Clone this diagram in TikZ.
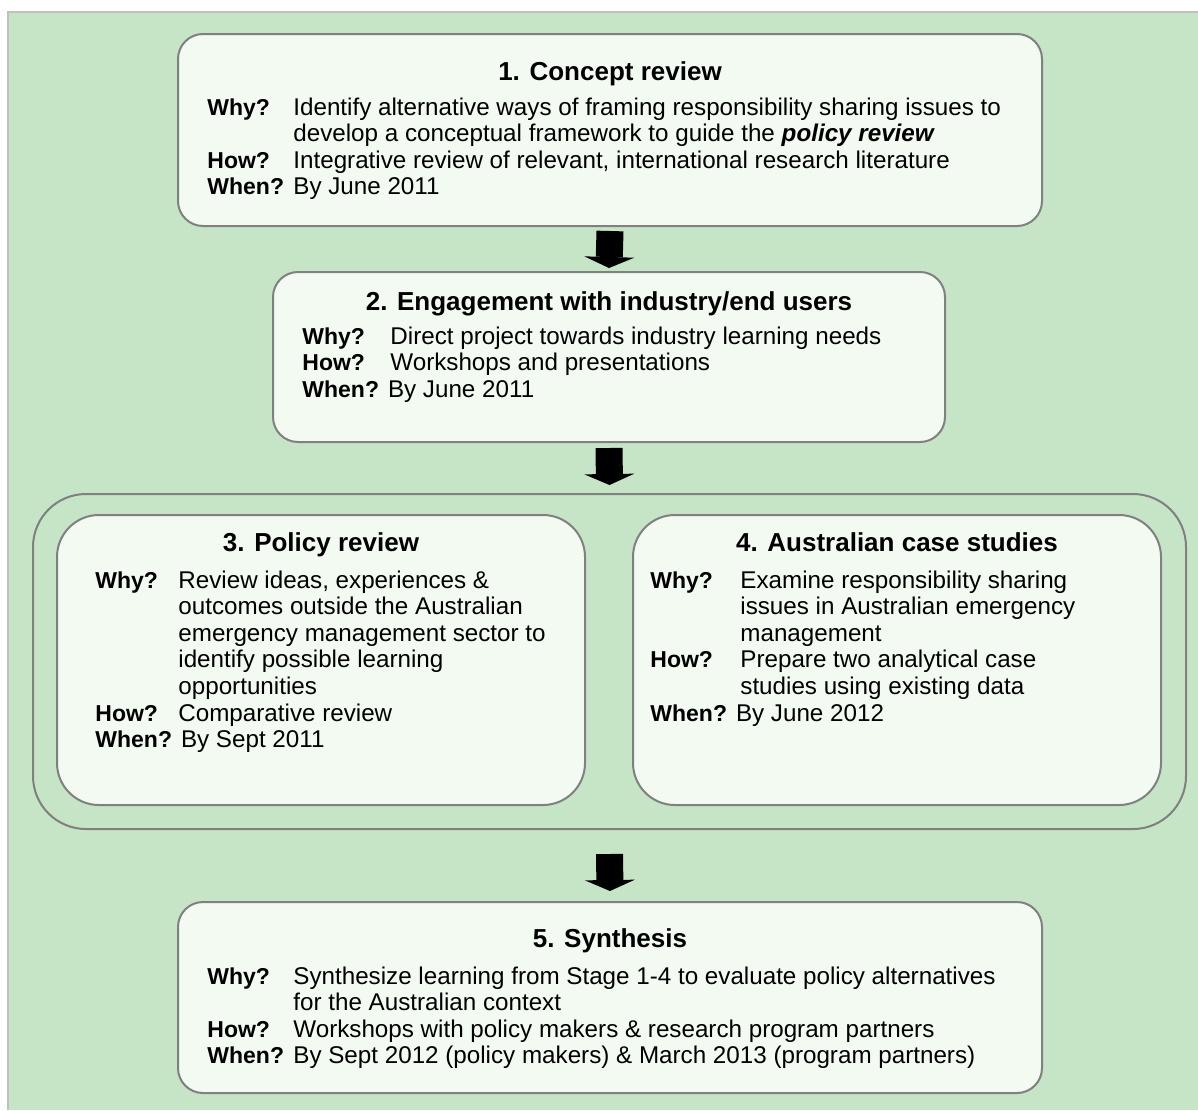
\documentclass[tikz,border=0pt]{standalone}
\usepackage{fontspec}
\setmainfont{Liberation Sans}
\usepackage{array}
\usetikzlibrary{arrows.meta,calc,fit}
\definecolor{bggreen}{RGB}{198,229,198}
\definecolor{boxfill}{RGB}{242,250,242}
\definecolor{framegray}{RGB}{192,192,192}
\definecolor{linegray}{RGB}{128,128,128}
\newcommand{\lbl}[1]{{\fontsize{11.5}{13.3}\selectfont\bfseries #1}}

\begin{document}
\begin{tikzpicture}[x=0.5pt,y=-0.5pt,
    stage/.style={draw=linegray, line width=1pt, fill=boxfill, rounded corners=12.5pt, inner sep=0pt},
    group/.style={draw=linegray, line width=1pt, rounded corners=26.5pt, inner sep=0pt},
    title/.style={anchor=base, inner sep=0pt, font=\fontsize{13}{15}\selectfont\bfseries},
    body/.style={anchor=base west, inner sep=0pt, font=\fontsize{12.1}{13.3}\selectfont},
    down/.style={line width=13.5pt, -{Triangle[width=25pt,length=5.5pt,line width=0pt]}}]
        \useasboundingbox (0,0) rectangle (1198,1110);
        \fill [bggreen]   (8,12) rectangle (1198,1110);                 %background
        \draw [framegray, line width=1pt] (1198,12) -- (8,12) -- (8,1110);
        \node [stage, fit={(178,34) (1042,226)}] (c1) {};               %stage 1
        \node [title] (c1title) at (610,80) {1. Concept review};
        \node [body] (c1text) at (207,115) {\begin{tabular}[t]{@{}p{43pt}@{}l@{}}
            \lbl{Why?}  & Identify alternative ways of framing responsibility sharing issues to\\
                        & develop a conceptual framework to guide the \textbf{\textit{policy review}}\\
            \lbl{How?}  & Integrative review of relevant, international research literature\\
            \lbl{When?} & By June 2011
          \end{tabular}};
        \node [stage, fit={(273,272) (945,442)}] (c2) {};               %stage 2
        \node [title] (c2title) at (609,310) {2. Engagement with industry/end users};
        \node [body] (c2text) at (302,344) {\begin{tabular}[t]{@{}p{44pt}@{}l@{}}
            \lbl{Why?}  & Direct project towards industry learning needs\\
            \lbl{How?}  & Workshops and presentations\\
            \multicolumn{2}{@{}l@{}}{\lbl{When?} By June 2011}
          \end{tabular}};
        \node [group, fit={(33,494) (1186,829)}] (grp) {};              %stages 3+4
        \node [stage, rounded corners=21pt, fit={(57,515) (585,805)}] (c3) {};
        \node [title] (c3title) at (321,551) {3. Policy review};
        \node [body] (c3text) at (95,588) {\begin{tabular}[t]{@{}p{41.5pt}@{}l@{}}
            \lbl{Why?}  & Review ideas, experiences \&\\
                        & outcomes outside the Australian\\
                        & emergency management sector to\\
                        & identify possible learning\\
                        & opportunities\\
            \lbl{How?}  & Comparative review\\
            \multicolumn{2}{@{}l@{}}{\lbl{When?} By Sept 2011}
          \end{tabular}};
        \node [stage, rounded corners=21pt, fit={(633,515) (1161,805)}] (c4) {};
        \node [title] (c4title) at (897,551) {4. Australian case studies};
        \node [body] (c4text) at (650,588) {\begin{tabular}[t]{@{}p{45pt}@{}l@{}}
            \lbl{Why?}  & Examine responsibility sharing\\
                        & issues in Australian emergency\\
                        & management\\
            \lbl{How?}  & Prepare two analytical case\\
                        & studies using existing data\\
            \multicolumn{2}{@{}l@{}}{\lbl{When?} By June 2012}
          \end{tabular}};
        \node [stage, fit={(178,902) (1042,1093)}] (c5) {};             %stage 5
        \node [title] (c5title) at (610,947) {5. Synthesis};
        \node [body] (c5text) at (207,984) {\begin{tabular}[t]{@{}p{43pt}@{}l@{}}
            \lbl{Why?}  & Synthesize learning from Stage 1-4 to evaluate policy alternatives\\
                        & for the Australian context\\
            \lbl{How?}  & Workshops with policy makers \& research program partners\\
            \lbl{When?} & By Sept 2012 (policy makers) \& March 2013 (program partners)
          \end{tabular}};
        \draw [down] ($(c1.south)+(0,4)$)  -- ($(c2.north)+(0,-3)$);    %1 -> 2
        \draw [down] ($(c2.south)+(0,5)$)  -- ($(grp.north)+(0,-8)$);   %2 -> 3+4
        \draw [down] ($(grp.south)+(0,24)$) -- ($(c5.north)+(0,-10)$);  %3+4 -> 5
\end{tikzpicture}
\end{document}
